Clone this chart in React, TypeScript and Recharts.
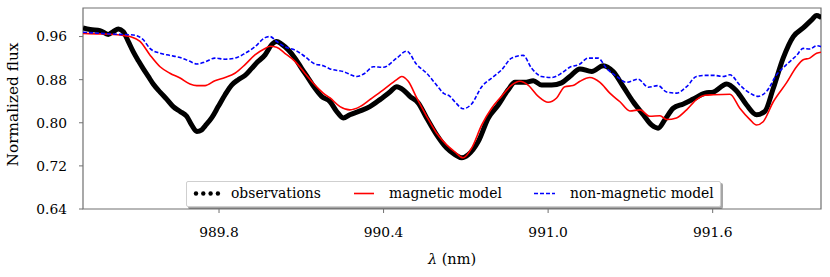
import { LineChart, Line, XAxis, YAxis, ReferenceArea } from "recharts"

// observations (wavelength in nm, normalized flux)
const obsWave = [
  989.304, 989.33, 989.366, 989.396, 989.414, 989.433, 989.451, 989.469, 989.487, 989.506,
  989.524, 989.542, 989.56, 989.585, 989.609, 989.633, 989.658, 989.682, 989.7, 989.719,
  989.737, 989.749, 989.773, 989.797, 989.822, 989.846, 989.87, 989.895, 989.919, 989.943,
  989.968, 989.992, 990.01, 990.028, 990.053, 990.077, 990.101, 990.125, 990.15, 990.174,
  990.205, 990.229, 990.253, 990.277, 990.314, 990.35, 990.387, 990.423, 990.448, 990.472,
  990.496, 990.526, 990.557, 990.593, 990.63, 990.66, 990.685, 990.709, 990.745, 990.782,
  990.818, 990.854, 990.879, 990.915, 990.946, 990.976, 991.013, 991.049, 991.079, 991.116,
  991.159, 991.201, 991.237, 991.274, 991.31, 991.347, 991.377, 991.401, 991.426, 991.456,
  991.493, 991.529, 991.572, 991.602, 991.651, 991.687, 991.724, 991.76, 991.79, 991.821,
  991.857, 991.894, 991.93, 991.961, 991.979, 991.997,
]
const obsFlux = [
  0.976, 0.973, 0.971, 0.964, 0.969, 0.974, 0.969, 0.951, 0.932, 0.915,
  0.9, 0.886, 0.872, 0.857, 0.844, 0.83, 0.821, 0.812, 0.796, 0.784,
  0.787, 0.794, 0.809, 0.83, 0.852, 0.87, 0.88, 0.888, 0.901, 0.914,
  0.926, 0.945, 0.951, 0.946, 0.935, 0.92, 0.901, 0.883, 0.864, 0.849,
  0.839, 0.821, 0.809, 0.815, 0.822, 0.83, 0.843, 0.857, 0.867, 0.861,
  0.849, 0.837, 0.809, 0.778, 0.753, 0.741, 0.735, 0.741, 0.765, 0.809,
  0.833, 0.861, 0.875, 0.875, 0.878, 0.87, 0.87, 0.874, 0.886, 0.9,
  0.895, 0.906, 0.895, 0.867, 0.839, 0.815, 0.796, 0.79, 0.806, 0.827,
  0.835, 0.844, 0.855, 0.857, 0.872, 0.859, 0.833, 0.815, 0.821, 0.864,
  0.92, 0.96, 0.976, 0.991, 0.999, 0.995,
]

// magnetic model
const magWave = [
  989.304, 989.366, 989.439, 989.475, 989.512, 989.548, 989.585, 989.621, 989.658, 989.694,
  989.719, 989.749, 989.785, 989.822, 989.858, 989.895, 989.931, 989.968, 989.986, 990.01,
  990.04, 990.077, 990.113, 990.15, 990.18, 990.205, 990.241, 990.277, 990.314, 990.35,
  990.399, 990.448, 990.466, 990.49, 990.521, 990.557, 990.593, 990.63, 990.66, 990.69,
  990.721, 990.758, 990.794, 990.83, 990.867, 990.897, 990.927, 990.964, 991.0, 991.031,
  991.061, 991.091, 991.116, 991.152, 991.189, 991.225, 991.262, 991.298, 991.335, 991.371,
  991.408, 991.432, 991.468, 991.505, 991.541, 991.572, 991.602, 991.663, 991.699, 991.736,
  991.76, 991.784, 991.821, 991.869, 991.906, 991.93, 991.954, 991.979, 991.997,
]
const magFlux = [
  0.966, 0.965, 0.963, 0.96, 0.951, 0.926, 0.904, 0.892, 0.883, 0.872,
  0.869, 0.869, 0.878, 0.884, 0.892, 0.908, 0.926, 0.938, 0.942, 0.94,
  0.929, 0.914, 0.892, 0.87, 0.855, 0.846, 0.83, 0.824, 0.83, 0.843,
  0.861, 0.88, 0.886, 0.877, 0.846, 0.812, 0.781, 0.759, 0.746, 0.735,
  0.753, 0.796, 0.827, 0.849, 0.87, 0.877, 0.87, 0.849, 0.838, 0.846,
  0.867, 0.869, 0.877, 0.884, 0.875, 0.855, 0.839, 0.822, 0.824, 0.812,
  0.813, 0.806, 0.809, 0.824, 0.843, 0.851, 0.852, 0.853, 0.827, 0.806,
  0.796, 0.802, 0.839, 0.874, 0.904, 0.917, 0.92, 0.929, 0.931,
]

// non-magnetic model
const nonMagWave = [
  989.304, 989.366, 989.439, 989.487, 989.524, 989.548, 989.585, 989.621, 989.658, 989.694,
  989.719, 989.749, 989.785, 989.822, 989.858, 989.895, 989.931, 989.968, 989.986, 990.01,
  990.04, 990.077, 990.113, 990.15, 990.18, 990.205, 990.253, 990.302, 990.332, 990.362,
  990.399, 990.448, 990.484, 990.521, 990.557, 990.593, 990.618, 990.642, 990.66, 990.69,
  990.721, 990.758, 990.794, 990.83, 990.867, 990.909, 990.94, 990.976, 991.013, 991.049,
  991.079, 991.116, 991.145, 991.182, 991.213, 991.25, 991.286, 991.328, 991.365, 991.401,
  991.432, 991.468, 991.505, 991.541, 991.572, 991.602, 991.638, 991.663, 991.699, 991.736,
  991.766, 991.796, 991.833, 991.869, 991.906, 991.93, 991.954, 991.979, 991.997,
]
const nonMagFlux = [
  0.968, 0.966, 0.964, 0.963, 0.954, 0.938, 0.929, 0.925, 0.921, 0.914,
  0.909, 0.913, 0.92, 0.918, 0.92, 0.929, 0.941, 0.958, 0.96, 0.951,
  0.941, 0.935, 0.923, 0.909, 0.906, 0.9, 0.895, 0.886, 0.892, 0.904,
  0.903, 0.92, 0.933, 0.908, 0.892, 0.87, 0.855, 0.849, 0.839, 0.826,
  0.835, 0.867, 0.883, 0.898, 0.92, 0.925, 0.901, 0.886, 0.884, 0.892,
  0.903, 0.909, 0.92, 0.92, 0.901, 0.886, 0.875, 0.881, 0.866, 0.869,
  0.857, 0.855, 0.867, 0.886, 0.888, 0.888, 0.886, 0.889, 0.87, 0.855,
  0.849, 0.858, 0.889, 0.908, 0.925, 0.938, 0.937, 0.943, 0.941,
]

const xTicks = [989.8, 990.4, 991.0, 991.6]
const yTicks = [0.64, 0.72, 0.8, 0.88, 0.96]

const zip = (w: number[], f: number[]) => w.map((lam, i) => ({ lam, flux: f[i] }))
const obsData = zip(obsWave, obsFlux)
const magData = zip(magWave, magFlux)
const nonMagData = zip(nonMagWave, nonMagFlux)

const X_MIN = 989.304
const X_MAX = 991.995
const Y_MIN = 0.64
const Y_MAX = 1.013

const FONT = "'DejaVu Serif', serif"
const tickStyle = { fontSize: 13.8, fontFamily: FONT, fill: "#000" }

function XLabel(props: any) {
  const { x, y, width } = props.viewBox
  return (
    <text x={x + width / 2} y={y + 55} textAnchor="middle" fontSize={14.5} fontFamily={FONT} fill="#000">
      <tspan fontStyle="italic">λ</tspan> (nm)
    </text>
  )
}

function LegendBox() {
  const text = { position: "absolute" as const, top: 3, fontSize: 13.9, fontFamily: FONT, lineHeight: "17px", color: "#000", whiteSpace: "nowrap" as const }
  return (
    <div
      style={{
        position: "absolute",
        left: 186,
        top: 181,
        width: 533,
        height: 24,
        background: "#fff",
        border: "1px solid #cfcfcf",
        borderRadius: 2,
        boxShadow: "2px 2px 0 rgba(0,0,0,0.35)",
      }}
    >
      <svg style={{ position: "absolute", left: 0, top: 0 }} width={533} height={24}>
        {[0, 1, 2, 3].map((i) => (
          <circle key={i} cx={9 + i * 7.3} cy={11.5} r={2.2} fill="#000" />
        ))}
        <line x1={167} x2={187} y1={11.5} y2={11.5} stroke="#ff0000" strokeWidth={1.6} />
        <line x1={347} x2={368} y1={11.5} y2={11.5} stroke="#0000ff" strokeWidth={1.6} strokeDasharray="4 2" />
      </svg>
      <span style={{ ...text, left: 44 }}>observations</span>
      <span style={{ ...text, left: 202 }}>magnetic model</span>
      <span style={{ ...text, left: 383 }}>non-magnetic model</span>
    </div>
  )
}

export default function App() {
  return (
    <div style={{ position: "absolute", left: 0, top: 0, width: 830, height: 277, background: "#fff" }}>
      <LineChart width={830} height={277} margin={{ top: 8, right: 9, left: 0, bottom: 0 }}>
        <XAxis
          type="number"
          dataKey="lam"
          domain={[X_MIN, X_MAX]}
          ticks={xTicks}
          allowDataOverflow
          tickFormatter={(v) => v.toFixed(1)}
          tick={tickStyle}
          height={68}
          tickSize={4}
          tickMargin={14}
          axisLine={false}
          tickLine={{ stroke: "#707070" }}
          label={<XLabel />}
        />
        <YAxis
          type="number"
          dataKey="flux"
          domain={[Y_MIN, Y_MAX]}
          ticks={yTicks}
          allowDataOverflow
          tickFormatter={(v) => v.toFixed(2)}
          tick={tickStyle}
          width={83}
          tickSize={4}
          tickMargin={12}
          axisLine={false}
          tickLine={{ stroke: "#707070" }}
          label={{
            value: "Normalized flux",
            angle: -90,
            position: "center",
            dx: -28.5,
            dy: -4,
            style: { fontSize: 15.3, fontFamily: FONT, fill: "#000" },
          }}
        />
        <ReferenceArea
          x1={X_MIN}
          x2={X_MAX}
          y1={Y_MIN}
          y2={Y_MAX}
          fill="none"
          fillOpacity={0}
          stroke="#707070"
          strokeWidth={1.2}
          ifOverflow="visible"
        />
        <Line data={obsData} dataKey="flux" type="monotone" stroke="#000" strokeWidth={5} dot={false} isAnimationActive={false} />
        <Line data={magData} dataKey="flux" type="monotone" stroke="#ff0000" strokeWidth={1.6} dot={false} isAnimationActive={false} />
        <Line
          data={nonMagData}
          dataKey="flux"
          type="monotone"
          stroke="#0000ff"
          strokeWidth={1.6}
          strokeDasharray="4 2"
          dot={false}
          isAnimationActive={false}
        />
      </LineChart>
      <LegendBox />
    </div>
  )
}
